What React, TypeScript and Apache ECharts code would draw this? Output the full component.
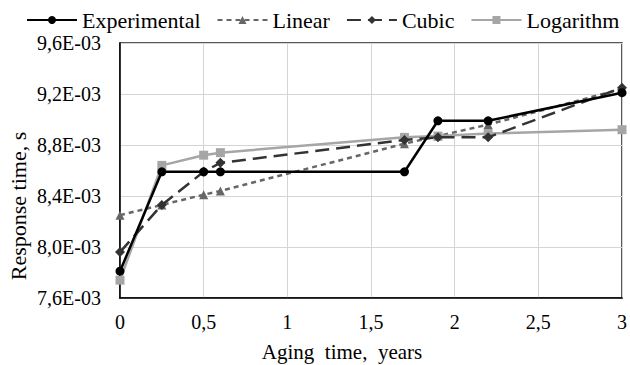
import React, { useEffect, useRef } from "react";
import * as echarts from "echarts";

const xValues = [0, 0.25, 0.5, 0.6, 1.7, 1.9, 2.2, 3];
const experimental = [7.81e-3, 8.59e-3, 8.59e-3, 8.59e-3, 8.59e-3, 8.99e-3, 8.99e-3, 9.21e-3];
const linear = [8.25e-3, 8.33e-3, 8.41e-3, 8.44e-3, 8.81e-3, 8.87e-3, 8.96e-3, 9.24e-3];
const cubic = [7.96e-3, 8.33e-3, 8.59e-3, 8.66e-3, 8.84e-3, 8.86e-3, 8.86e-3, 9.25e-3];
const logarithm = [7.74e-3, 8.64e-3, 8.72e-3, 8.74e-3, 8.86e-3, 8.87e-3, 8.89e-3, 8.92e-3];
const seriesNames = ["Experimental", "Linear", "Cubic", "Logarithm"];
const xAxisTitle = "Aging  time,  years";
const yAxisTitle = "Response time, s";

const font = "Liberation Serif";

function fmtY(v: number) {
  const exp = Math.floor(Math.log10(v) + 1e-9);
  const m = v / Math.pow(10, exp);
  const e = Math.abs(exp);
  return m.toFixed(1).replace(".", ",") + "E" + (exp < 0 ? "-" : "+") + (e < 10 ? "0" + e : "" + e);
}

export default function App() {
  const ref = useRef<HTMLDivElement>(null);
  useEffect(() => {
    const chart = echarts.init(ref.current!, null, { renderer: "svg" });
    const pair = (arr: number[]) => xValues.map((x, i) => [x, arr[i]]);
    chart.setOption({
      animation: false,
      legend: {
        top: 9,
        left: 26,
        padding: 0,
        itemGap: 16,
        itemWidth: 50,
        itemHeight: 10,
        textStyle: { fontFamily: font, fontSize: 22, color: "#000" },
        data: seriesNames,
      },
      grid: {
        left: 120,
        right: 7,
        top: 43,
        bottom: 67,
        show: true,
        borderColor: "#222",
        borderWidth: 1.5,
      },
      graphic: [
        {
          type: "text",
          x: 342,
          y: 352,
          style: {
            text: xAxisTitle,
            fontFamily: font,
            fontSize: 21,
            fill: "#000",
            align: "center",
            verticalAlign: "middle",
          },
        },
        {
          type: "text",
          x: 18,
          y: 206,
          rotation: Math.PI / 2,
          style: {
            text: yAxisTitle,
            fontFamily: font,
            fontSize: 22,
            fill: "#000",
            align: "center",
            verticalAlign: "middle",
          },
        },
      ],
      xAxis: {
        type: "value",
        min: 0,
        max: 3,
        interval: 0.5,
        axisLine: { show: true, lineStyle: { color: "#000", width: 1.5 } },
        axisTick: { show: false },
        axisLabel: {
          fontFamily: font,
          fontSize: 20,
          color: "#000",
          margin: 14,
          formatter: (v: number) => String(v).replace(".", ","),
        },
        splitLine: { show: true, lineStyle: { color: "#d4d4d4", width: 1 } },
      },
      yAxis: {
        type: "value",
        min: 0.0076,
        max: 0.0096,
        interval: 0.0004,
        axisLine: { show: true, lineStyle: { color: "#000", width: 1.5 } },
        axisTick: { show: false },
        axisLabel: {
          fontFamily: font,
          fontSize: 20,
          color: "#000",
          margin: 19,
          formatter: (v: number) => fmtY(v),
        },
        splitLine: { show: true, lineStyle: { color: "#d4d4d4", width: 1 } },
      },
      series: [
        {
          name: "Linear",
          type: "line",
          data: pair(linear),
          symbol: "triangle",
          symbolSize: 9,
          itemStyle: { color: "#666" },
          lineStyle: { color: "#666", width: 2.5, type: [5, 4] },
          z: 2,
        },
        {
          name: "Logarithm",
          type: "line",
          data: pair(logarithm),
          symbol: "rect",
          symbolSize: 9,
          itemStyle: { color: "#a6a6a6" },
          lineStyle: { color: "#a6a6a6", width: 2.5 },
          z: 3,
        },
        {
          name: "Cubic",
          type: "line",
          data: pair(cubic),
          symbol: "diamond",
          symbolSize: 10,
          itemStyle: { color: "#333" },
          lineStyle: { color: "#333", width: 2.5, type: [14, 7] },
          z: 4,
        },
        {
          name: "Experimental",
          type: "line",
          data: pair(experimental),
          symbol: "circle",
          symbolSize: 9,
          itemStyle: { color: "#000" },
          lineStyle: { color: "#000", width: 2.5 },
          z: 5,
        },
      ],
    });
    return () => chart.dispose();
  }, []);
  return (
    <div style={{ width: 630, height: 365, position: "absolute", left: 0, top: 0, background: "#fff" }}>
      <div ref={ref} style={{ width: 630, height: 365 }} />
    </div>
  );
}
